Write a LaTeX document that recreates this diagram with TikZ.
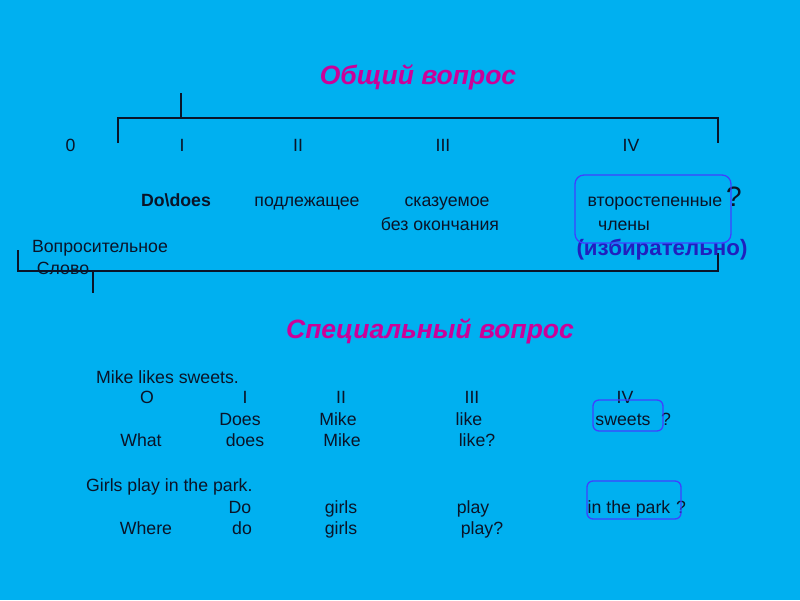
\documentclass[tikz,border=0pt]{standalone}
\usepackage{fontspec}
\setmainfont{Liberation Sans}
\definecolor{bg}{RGB}{0,176,240}
\definecolor{ttl}{RGB}{204,0,153}
\definecolor{sel}{RGB}{32,32,190}
\definecolor{boxc}{RGB}{64,64,255}
\definecolor{ink}{RGB}{10,20,40}
\begin{document}
\begin{tikzpicture}[x=1pt,y=-1pt,
  txt/.style={font=\fontsize{17.7}{20}\selectfont, anchor=base, inner sep=0pt, text=ink},
  btxt/.style={txt, font=\fontsize{17.7}{20}\selectfont\bfseries},
  title/.style={font=\fontsize{26.5}{30}\selectfont\bfseries\itshape, text=ttl, anchor=base, inner sep=0pt},
  bracket/.style={draw=ink, line width=1.4pt},
  hl/.style={draw=boxc, line width=1.3pt, rounded corners=9pt}]
\fill[bg] (0,0) rectangle (800,600);
\useasboundingbox (0,0) rectangle (800,600);
% titles
\node[title] (t1) at (418,84) {Общий вопрос};
\node[title] (t2) at (430,338) {Специальный вопрос};
% brackets
\coordinate (a1) at (181,93); \coordinate (a2) at (181,118);
\coordinate (b1) at (118,143); \coordinate (b2) at (118,118);
\coordinate (b3) at (718,118); \coordinate (b4) at (718,143);
\draw[bracket] (a1) -- (a2);
\draw[bracket] (b1) -- (b2) -- (b3) -- (b4);
\coordinate (c1) at (18,250); \coordinate (c2) at (18,271);
\coordinate (c3) at (718,271); \coordinate (c4) at (718,253);
\draw[bracket] (c1) -- (c2) -- (c3) -- (c4);
\coordinate (d1) at (93,271); \coordinate (d2) at (93,293);
\draw[bracket] (d1) -- (d2);
% upper labels
\node[txt] (n0) at (70.5,151) {0};
\node[txt] (n1) at (182,151) {I};
\node[txt] (n2) at (298,151) {II};
\node[txt] (n3) at (443,151) {III};
\node[txt] (n4) at (631,151) {IV};
\node[btxt] (dd) at (176,206) {Do\textbackslash does};
\node[txt] (pod) at (307,206) {подлежащее};
\node[txt] (sk) at (447,206) {сказуемое};
\node[txt] (bez) at (440,230) {без окончания};
\node[txt] (vt) at (655,206) {второстепенные};
\node[txt] (chl) at (624,230) {члены};
\node[txt, font=\fontsize{28}{30}\selectfont] (q0) at (734,206) {?};
\node[txt] (vop) at (100,252) {Вопросительное};
\node[txt] (slo) at (63,274) {Слово};
\node[txt, font=\fontsize{22.3}{24}\selectfont\bfseries, text=sel] (izb) at (662,255) {(избирательно)};
\coordinate (h1) at (575,175); \coordinate (h2) at (731,243);
\draw[hl] (h1) rectangle (h2);
% lower part
\node[txt, anchor=base west] (s1) at (96,383) {Mike likes sweets.};
\node[txt] (r0) at (147,403) {O};
\node[txt] (r1) at (245,403) {I};
\node[txt] (r2) at (341,403) {II};
\node[txt] (r3) at (472,403) {III};
\node[txt] (r4) at (625,403) {IV};
\node[txt] (w1) at (240,425) {Does};
\node[txt] (w2) at (338,425) {Mike};
\node[txt] (w3) at (469,425) {like};
\node[txt] (w4) at (623,425) {sweets};
\node[txt] (w5) at (666,425) {?};
\node[txt] (x0) at (141,446) {What};
\node[txt] (x1) at (245,446) {does};
\node[txt] (x2) at (342,446) {Mike};
\node[txt] (x3) at (477,446) {like?};
\coordinate (k1) at (593,400); \coordinate (k2) at (663,431);
\draw[hl, rounded corners=6pt] (k1) rectangle (k2);
\node[txt, anchor=base west] (s2) at (86,491) {Girls play in the park.};
\node[txt] (y1) at (240,513) {Do};
\node[txt] (y2) at (341,513) {girls};
\node[txt] (y3) at (473,513) {play};
\node[txt] (y4) at (629,513) {in the park};
\node[txt] (y5) at (681,513) {?};
\node[txt] (z0) at (146,534) {Where};
\node[txt] (z1) at (242,534) {do};
\node[txt] (z2) at (341,534) {girls};
\node[txt] (z3) at (482,534) {play?};
\coordinate (m1) at (587,481); \coordinate (m2) at (681,519);
\draw[hl, rounded corners=6pt] (m1) rectangle (m2);
\end{tikzpicture}
\end{document}
